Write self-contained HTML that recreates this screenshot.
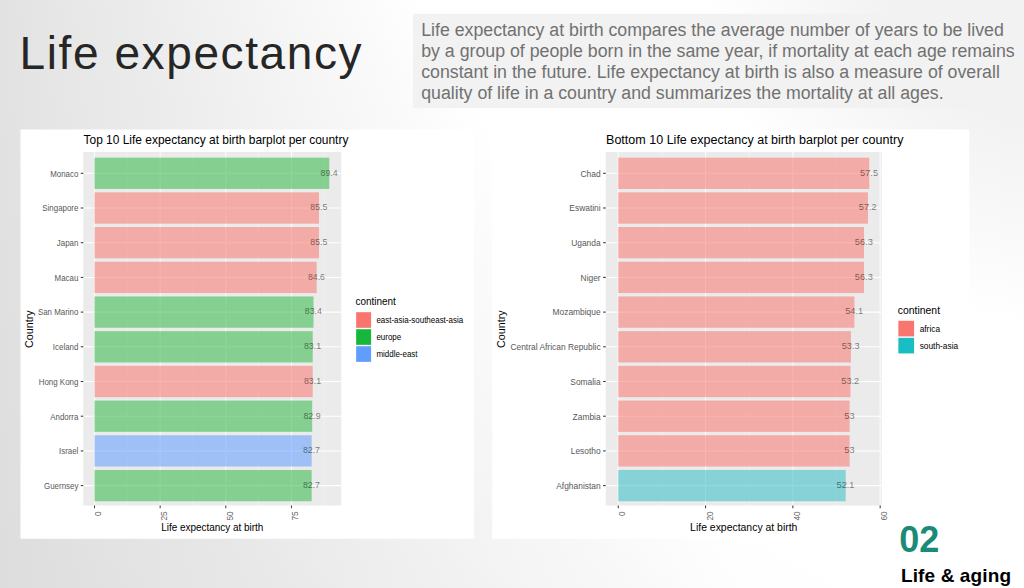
<!DOCTYPE html>
<html><head><meta charset="utf-8"><title>Life expectancy</title>
<style>
html,body{margin:0;padding:0;width:1024px;height:588px;overflow:hidden;background:#fff;font-family:'Liberation Sans', sans-serif;}
#bg{position:absolute;left:0;top:0;width:1024px;height:588px;
background:
 radial-gradient(372px 400px at 1065px -70px, rgba(0,0,0,0.051) 0%, rgba(0,0,0,0.051) 50%, rgba(0,0,0,0) 100%),
 linear-gradient(30deg, rgba(0,0,0,0.022) 0%, rgba(0,0,0,0) 45%),
 conic-gradient(from 0deg at 0px -750px, #fff 0deg, rgb(255,255,255) 150.75deg, rgb(250,250,250) 155.00deg, rgb(245,245,245) 160.00deg, rgb(240,240,240) 165.00deg, rgb(235,235,235) 170.00deg, rgb(231,231,231) 175.00deg, rgb(226,226,226) 180.00deg, rgb(226,226,226) 360deg);}
svg{position:absolute;left:0;top:0;}
text{font-family:'Liberation Sans', sans-serif;}
</style></head><body>
<div id="bg"></div>
<svg width="1024" height="588" viewBox="0 0 1024 588">
<g id="title"><text x="19.5" y="68.5" font-size="46" fill="#262626" textLength="342" lengthAdjust="spacing">Life expectancy</text></g>
<g id="desc"><rect x="413" y="13.75" width="611" height="94.4" fill="#f2f2f2"/><text transform="translate(421.20 35.50)" font-size="17.74" fill="#717171">Life expectancy at birth compares the average number of years to be lived</text><text transform="translate(421.20 56.75)" font-size="17.74" fill="#717171">by a group of people born in the same year, if mortality at each age remains</text><text transform="translate(421.20 78.00)" font-size="17.74" fill="#717171">constant in the future. Life expectancy at birth is also a measure of overall</text><text transform="translate(421.20 99.25)" font-size="17.74" fill="#717171">quality of life in a country and summarizes the mortality at all ages.</text></g>
<g id="left">
<rect x="20.5" y="129.5" width="453.5" height="409.25" fill="#fff"/>
<rect x="83.25" y="152" width="258.0" height="353.5" fill="#ebebeb"/>
<path d="M127.32 152V505.5" stroke="#fff" stroke-opacity="0.55" stroke-width="0.50"/>
<path d="M192.97 152V505.5" stroke="#fff" stroke-opacity="0.55" stroke-width="0.50"/>
<path d="M258.61 152V505.5" stroke="#fff" stroke-opacity="0.55" stroke-width="0.50"/>
<path d="M324.26 152V505.5" stroke="#fff" stroke-opacity="0.55" stroke-width="0.50"/>
<path d="M94.50 152V505.5" stroke="#fff" stroke-opacity="0.85" stroke-width="0.97"/>
<path d="M160.15 152V505.5" stroke="#fff" stroke-opacity="0.85" stroke-width="0.97"/>
<path d="M225.79 152V505.5" stroke="#fff" stroke-opacity="0.85" stroke-width="0.97"/>
<path d="M291.44 152V505.5" stroke="#fff" stroke-opacity="0.85" stroke-width="0.97"/>
<path d="M83.25 173.30H341.25" stroke="#fff" stroke-width="1.05"/>
<path d="M83.25 208.00H341.25" stroke="#fff" stroke-width="1.05"/>
<path d="M83.25 242.70H341.25" stroke="#fff" stroke-width="1.05"/>
<path d="M83.25 277.40H341.25" stroke="#fff" stroke-width="1.05"/>
<path d="M83.25 312.10H341.25" stroke="#fff" stroke-width="1.05"/>
<path d="M83.25 346.80H341.25" stroke="#fff" stroke-width="1.05"/>
<path d="M83.25 381.50H341.25" stroke="#fff" stroke-width="1.05"/>
<path d="M83.25 416.20H341.25" stroke="#fff" stroke-width="1.05"/>
<path d="M83.25 450.90H341.25" stroke="#fff" stroke-width="1.05"/>
<path d="M83.25 485.60H341.25" stroke="#fff" stroke-width="1.05"/>
<rect x="94.50" y="157.65" width="234.75" height="31.30" fill="#32BA46" fill-opacity="0.55"/>
<rect x="94.50" y="192.35" width="224.51" height="31.30" fill="#F8766D" fill-opacity="0.55"/>
<rect x="94.50" y="227.05" width="224.51" height="31.30" fill="#F8766D" fill-opacity="0.55"/>
<rect x="94.50" y="261.75" width="222.15" height="31.30" fill="#F8766D" fill-opacity="0.55"/>
<rect x="94.50" y="296.45" width="218.99" height="31.30" fill="#32BA46" fill-opacity="0.55"/>
<rect x="94.50" y="331.15" width="218.21" height="31.30" fill="#32BA46" fill-opacity="0.55"/>
<rect x="94.50" y="365.85" width="218.21" height="31.30" fill="#F8766D" fill-opacity="0.55"/>
<rect x="94.50" y="400.55" width="217.68" height="31.30" fill="#32BA46" fill-opacity="0.55"/>
<rect x="94.50" y="435.25" width="217.16" height="31.30" fill="#619CFF" fill-opacity="0.55"/>
<rect x="94.50" y="469.95" width="217.16" height="31.30" fill="#32BA46" fill-opacity="0.55"/>
<text transform="translate(329.05 175.60) scale(0.8970 1)" font-size="9.80" text-anchor="middle" fill="#000" fill-opacity="0.5">89.4</text>
<text transform="translate(318.81 210.30) scale(0.8970 1)" font-size="9.80" text-anchor="middle" fill="#000" fill-opacity="0.5">85.5</text>
<text transform="translate(318.81 245.00) scale(0.8970 1)" font-size="9.80" text-anchor="middle" fill="#000" fill-opacity="0.5">85.5</text>
<text transform="translate(316.45 279.70) scale(0.8970 1)" font-size="9.80" text-anchor="middle" fill="#000" fill-opacity="0.5">84.6</text>
<text transform="translate(313.29 314.40) scale(0.8970 1)" font-size="9.80" text-anchor="middle" fill="#000" fill-opacity="0.5">83.4</text>
<text transform="translate(312.51 349.10) scale(0.8970 1)" font-size="9.80" text-anchor="middle" fill="#000" fill-opacity="0.5">83.1</text>
<text transform="translate(312.51 383.80) scale(0.8970 1)" font-size="9.80" text-anchor="middle" fill="#000" fill-opacity="0.5">83.1</text>
<text transform="translate(311.98 418.50) scale(0.8970 1)" font-size="9.80" text-anchor="middle" fill="#000" fill-opacity="0.5">82.9</text>
<text transform="translate(311.46 453.20) scale(0.8970 1)" font-size="9.80" text-anchor="middle" fill="#000" fill-opacity="0.5">82.7</text>
<text transform="translate(311.46 487.90) scale(0.8970 1)" font-size="9.80" text-anchor="middle" fill="#000" fill-opacity="0.5">82.7</text>
<path d="M80.76 173.30H83.25" stroke="#333" stroke-width="1.05"/>
<text transform="translate(78.37 176.60) scale(0.9137 1)" font-size="8.67" text-anchor="end" fill="#585858">Monaco</text>
<path d="M80.76 208.00H83.25" stroke="#333" stroke-width="1.05"/>
<text transform="translate(78.37 211.30) scale(0.9137 1)" font-size="8.67" text-anchor="end" fill="#585858">Singapore</text>
<path d="M80.76 242.70H83.25" stroke="#333" stroke-width="1.05"/>
<text transform="translate(78.37 246.00) scale(0.9137 1)" font-size="8.67" text-anchor="end" fill="#585858">Japan</text>
<path d="M80.76 277.40H83.25" stroke="#333" stroke-width="1.05"/>
<text transform="translate(78.37 280.70) scale(0.9137 1)" font-size="8.67" text-anchor="end" fill="#585858">Macau</text>
<path d="M80.76 312.10H83.25" stroke="#333" stroke-width="1.05"/>
<text transform="translate(78.37 315.40) scale(0.9137 1)" font-size="8.67" text-anchor="end" fill="#585858">San Marino</text>
<path d="M80.76 346.80H83.25" stroke="#333" stroke-width="1.05"/>
<text transform="translate(78.37 350.10) scale(0.9137 1)" font-size="8.67" text-anchor="end" fill="#585858">Iceland</text>
<path d="M80.76 381.50H83.25" stroke="#333" stroke-width="1.05"/>
<text transform="translate(78.37 384.80) scale(0.9137 1)" font-size="8.67" text-anchor="end" fill="#585858">Hong Kong</text>
<path d="M80.76 416.20H83.25" stroke="#333" stroke-width="1.05"/>
<text transform="translate(78.37 419.50) scale(0.9137 1)" font-size="8.67" text-anchor="end" fill="#585858">Andorra</text>
<path d="M80.76 450.90H83.25" stroke="#333" stroke-width="1.05"/>
<text transform="translate(78.37 454.20) scale(0.9137 1)" font-size="8.67" text-anchor="end" fill="#585858">Israel</text>
<path d="M80.76 485.60H83.25" stroke="#333" stroke-width="1.05"/>
<text transform="translate(78.37 488.90) scale(0.9137 1)" font-size="8.67" text-anchor="end" fill="#585858">Guernsey</text>
<path d="M94.50 505.5V508.21" stroke="#333" stroke-width="0.97"/>
<text transform="translate(101.25 511.28) rotate(-90) scale(0.9896 1)" font-size="8.45" text-anchor="end" fill="#646464">0</text>
<path d="M160.15 505.5V508.21" stroke="#333" stroke-width="0.97"/>
<text transform="translate(166.89 511.28) rotate(-90) scale(0.9896 1)" font-size="8.45" text-anchor="end" fill="#646464">25</text>
<path d="M225.79 505.5V508.21" stroke="#333" stroke-width="0.97"/>
<text transform="translate(232.54 511.28) rotate(-90) scale(0.9896 1)" font-size="8.45" text-anchor="end" fill="#646464">50</text>
<path d="M291.44 505.5V508.21" stroke="#333" stroke-width="0.97"/>
<text transform="translate(298.19 511.28) rotate(-90) scale(0.9896 1)" font-size="8.45" text-anchor="end" fill="#646464">75</text>
<text transform="translate(212.25 531.20) scale(0.9188 1)" font-size="10.83" text-anchor="middle" fill="#000">Life expectancy at birth</text>
<text transform="translate(33.10 329.15) rotate(-90) scale(1.0208 1)" font-size="10.56" text-anchor="middle" fill="#000">Country</text>
<text transform="translate(83.55 144.40) scale(0.9097 1)" font-size="13.13" fill="#000">Top 10 Life expectancy at birth barplot per country</text>
<text transform="translate(355.50 305.30) scale(0.9188 1)" font-size="10.83" fill="#000">continent</text>
<rect x="356.15" y="312.20" width="14.94" height="15.62" fill="#F8766D"/>
<text transform="translate(376.42 323.36) scale(0.9188 1)" font-size="8.67" fill="#000">east-asia-southeast-asia</text>
<rect x="356.15" y="329.22" width="14.94" height="15.62" fill="#16B83C"/>
<text transform="translate(376.42 340.38) scale(0.9188 1)" font-size="8.67" fill="#000">europe</text>
<rect x="356.15" y="346.24" width="14.94" height="15.62" fill="#619CFF"/>
<text transform="translate(376.42 357.40) scale(0.9188 1)" font-size="8.67" fill="#000">middle-east</text>
</g>
<g id="right">
<rect x="492.25" y="129.5" width="477.0" height="409.25" fill="#fff"/>
<rect x="605.75" y="152" width="276.0" height="353.5" fill="#ebebeb"/>
<path d="M661.90 152V505.5" stroke="#fff" stroke-opacity="0.55" stroke-width="0.52"/>
<path d="M749.21 152V505.5" stroke="#fff" stroke-opacity="0.55" stroke-width="0.52"/>
<path d="M836.51 152V505.5" stroke="#fff" stroke-opacity="0.55" stroke-width="0.52"/>
<path d="M618.25 152V505.5" stroke="#fff" stroke-opacity="0.85" stroke-width="1.02"/>
<path d="M705.55 152V505.5" stroke="#fff" stroke-opacity="0.85" stroke-width="1.02"/>
<path d="M792.86 152V505.5" stroke="#fff" stroke-opacity="0.85" stroke-width="1.02"/>
<path d="M880.16 152V505.5" stroke="#fff" stroke-opacity="0.85" stroke-width="1.02"/>
<path d="M605.75 173.30H881.75" stroke="#fff" stroke-width="1.05"/>
<path d="M605.75 208.00H881.75" stroke="#fff" stroke-width="1.05"/>
<path d="M605.75 242.70H881.75" stroke="#fff" stroke-width="1.05"/>
<path d="M605.75 277.40H881.75" stroke="#fff" stroke-width="1.05"/>
<path d="M605.75 312.10H881.75" stroke="#fff" stroke-width="1.05"/>
<path d="M605.75 346.80H881.75" stroke="#fff" stroke-width="1.05"/>
<path d="M605.75 381.50H881.75" stroke="#fff" stroke-width="1.05"/>
<path d="M605.75 416.20H881.75" stroke="#fff" stroke-width="1.05"/>
<path d="M605.75 450.90H881.75" stroke="#fff" stroke-width="1.05"/>
<path d="M605.75 485.60H881.75" stroke="#fff" stroke-width="1.05"/>
<rect x="618.25" y="157.65" width="251.00" height="31.30" fill="#F8766D" fill-opacity="0.55"/>
<rect x="618.25" y="192.35" width="249.69" height="31.30" fill="#F8766D" fill-opacity="0.55"/>
<rect x="618.25" y="227.05" width="245.76" height="31.30" fill="#F8766D" fill-opacity="0.55"/>
<rect x="618.25" y="261.75" width="245.76" height="31.30" fill="#F8766D" fill-opacity="0.55"/>
<rect x="618.25" y="296.45" width="236.16" height="31.30" fill="#F8766D" fill-opacity="0.55"/>
<rect x="618.25" y="331.15" width="232.67" height="31.30" fill="#F8766D" fill-opacity="0.55"/>
<rect x="618.25" y="365.85" width="232.23" height="31.30" fill="#F8766D" fill-opacity="0.55"/>
<rect x="618.25" y="400.55" width="231.36" height="31.30" fill="#F8766D" fill-opacity="0.55"/>
<rect x="618.25" y="435.25" width="231.36" height="31.30" fill="#F8766D" fill-opacity="0.55"/>
<rect x="618.25" y="469.95" width="227.43" height="31.30" fill="#33BEC5" fill-opacity="0.55"/>
<text transform="translate(869.05 175.60) scale(0.9416 1)" font-size="9.80" text-anchor="middle" fill="#000" fill-opacity="0.5">57.5</text>
<text transform="translate(867.74 210.30) scale(0.9416 1)" font-size="9.80" text-anchor="middle" fill="#000" fill-opacity="0.5">57.2</text>
<text transform="translate(863.81 245.00) scale(0.9416 1)" font-size="9.80" text-anchor="middle" fill="#000" fill-opacity="0.5">56.3</text>
<text transform="translate(863.81 279.70) scale(0.9416 1)" font-size="9.80" text-anchor="middle" fill="#000" fill-opacity="0.5">56.3</text>
<text transform="translate(854.21 314.40) scale(0.9416 1)" font-size="9.80" text-anchor="middle" fill="#000" fill-opacity="0.5">54.1</text>
<text transform="translate(850.72 349.10) scale(0.9416 1)" font-size="9.80" text-anchor="middle" fill="#000" fill-opacity="0.5">53.3</text>
<text transform="translate(850.28 383.80) scale(0.9416 1)" font-size="9.80" text-anchor="middle" fill="#000" fill-opacity="0.5">53.2</text>
<text transform="translate(849.41 418.50) scale(0.9416 1)" font-size="9.80" text-anchor="middle" fill="#000" fill-opacity="0.5">53</text>
<text transform="translate(849.41 453.20) scale(0.9416 1)" font-size="9.80" text-anchor="middle" fill="#000" fill-opacity="0.5">53</text>
<text transform="translate(845.48 487.90) scale(0.9416 1)" font-size="9.80" text-anchor="middle" fill="#000" fill-opacity="0.5">52.1</text>
<path d="M603.14 173.30H605.75" stroke="#333" stroke-width="1.05"/>
<text transform="translate(600.65 176.60) scale(0.9716 1)" font-size="8.67" text-anchor="end" fill="#585858">Chad</text>
<path d="M603.14 208.00H605.75" stroke="#333" stroke-width="1.05"/>
<text transform="translate(600.65 211.30) scale(0.9716 1)" font-size="8.67" text-anchor="end" fill="#585858">Eswatini</text>
<path d="M603.14 242.70H605.75" stroke="#333" stroke-width="1.05"/>
<text transform="translate(600.65 246.00) scale(0.9716 1)" font-size="8.67" text-anchor="end" fill="#585858">Uganda</text>
<path d="M603.14 277.40H605.75" stroke="#333" stroke-width="1.05"/>
<text transform="translate(600.65 280.70) scale(0.9716 1)" font-size="8.67" text-anchor="end" fill="#585858">Niger</text>
<path d="M603.14 312.10H605.75" stroke="#333" stroke-width="1.05"/>
<text transform="translate(600.65 315.40) scale(0.9716 1)" font-size="8.67" text-anchor="end" fill="#585858">Mozambique</text>
<path d="M603.14 346.80H605.75" stroke="#333" stroke-width="1.05"/>
<text transform="translate(600.65 350.10) scale(0.9716 1)" font-size="8.67" text-anchor="end" fill="#585858">Central African Republic</text>
<path d="M603.14 381.50H605.75" stroke="#333" stroke-width="1.05"/>
<text transform="translate(600.65 384.80) scale(0.9716 1)" font-size="8.67" text-anchor="end" fill="#585858">Somalia</text>
<path d="M603.14 416.20H605.75" stroke="#333" stroke-width="1.05"/>
<text transform="translate(600.65 419.50) scale(0.9716 1)" font-size="8.67" text-anchor="end" fill="#585858">Zambia</text>
<path d="M603.14 450.90H605.75" stroke="#333" stroke-width="1.05"/>
<text transform="translate(600.65 454.20) scale(0.9716 1)" font-size="8.67" text-anchor="end" fill="#585858">Lesotho</text>
<path d="M603.14 485.60H605.75" stroke="#333" stroke-width="1.05"/>
<text transform="translate(600.65 488.90) scale(0.9716 1)" font-size="8.67" text-anchor="end" fill="#585858">Afghanistan</text>
<path d="M618.25 505.5V508.21" stroke="#333" stroke-width="1.02"/>
<text transform="translate(625.25 511.28) rotate(-90) scale(0.9500 1)" font-size="8.80" text-anchor="end" fill="#646464">0</text>
<path d="M705.55 505.5V508.21" stroke="#333" stroke-width="1.02"/>
<text transform="translate(712.56 511.28) rotate(-90) scale(0.9500 1)" font-size="8.80" text-anchor="end" fill="#646464">20</text>
<path d="M792.86 505.5V508.21" stroke="#333" stroke-width="1.02"/>
<text transform="translate(799.86 511.28) rotate(-90) scale(0.9500 1)" font-size="8.80" text-anchor="end" fill="#646464">40</text>
<path d="M880.16 505.5V508.21" stroke="#333" stroke-width="1.02"/>
<text transform="translate(887.16 511.28) rotate(-90) scale(0.9500 1)" font-size="8.80" text-anchor="end" fill="#646464">60</text>
<text transform="translate(743.75 531.20) scale(0.9645 1)" font-size="10.83" text-anchor="middle" fill="#000">Life expectancy at birth</text>
<text transform="translate(505.10 329.15) rotate(-90) scale(0.9800 1)" font-size="11.00" text-anchor="middle" fill="#000">Country</text>
<text transform="translate(606.05 144.40) scale(0.9549 1)" font-size="13.13" fill="#000">Bottom 10 Life expectancy at birth barplot per country</text>
<text transform="translate(897.70 313.90) scale(0.9645 1)" font-size="10.83" fill="#000">continent</text>
<rect x="898.35" y="320.80" width="15.72" height="15.62" fill="#F8766D"/>
<text transform="translate(919.64 331.96) scale(0.9645 1)" font-size="8.67" fill="#000">africa</text>
<rect x="898.35" y="337.82" width="15.72" height="15.62" fill="#1ABDC3"/>
<text transform="translate(919.64 348.98) scale(0.9645 1)" font-size="8.67" fill="#000">south-asia</text>
</g>
<g id="footer"><text transform="translate(899.30 551.60)" font-size="36.00" font-weight="bold" fill="#1c8a78">02</text><text x="901" y="581.7" font-size="19" font-weight="bold" fill="#000" textLength="110" lengthAdjust="spacing">Life &amp; aging</text></g>
</svg>
</body></html>
